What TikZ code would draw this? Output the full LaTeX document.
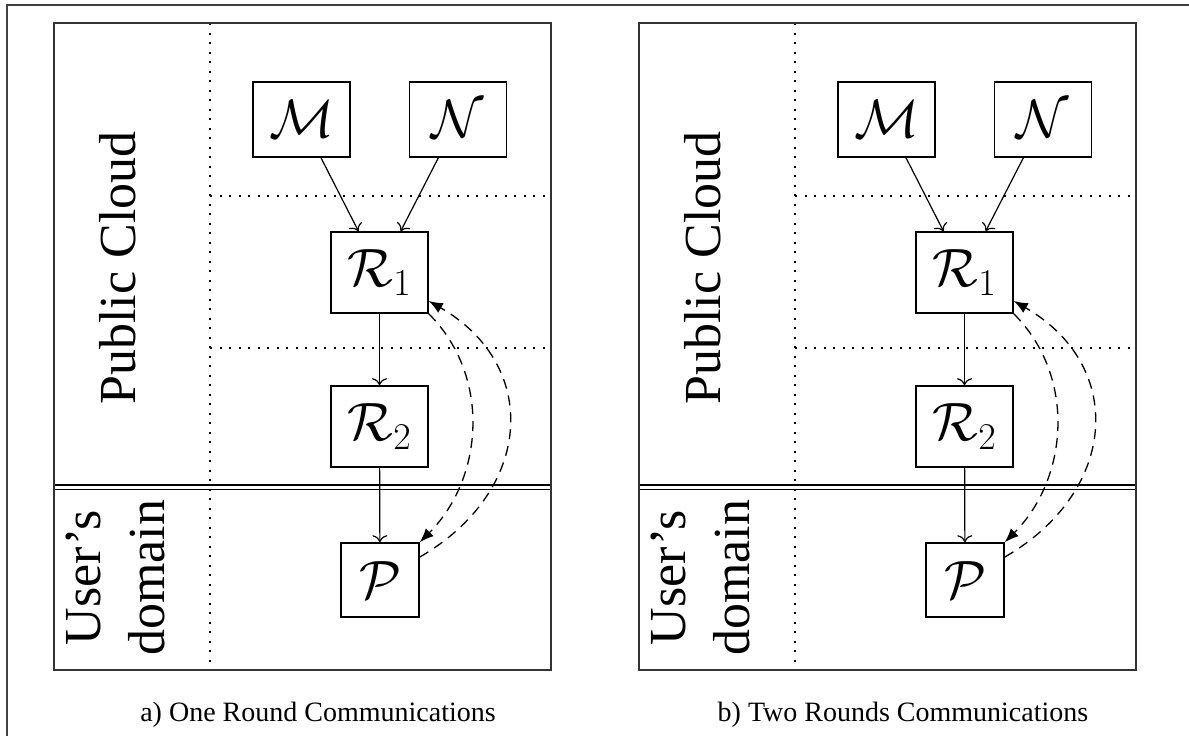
\RequirePackage{fix-cm}
\documentclass[tikz,border=0pt]{standalone}
\usepackage{fontspec}
\setmainfont{Liberation Serif}
\usepackage{amsmath}
\usepackage{xcolor}
\usetikzlibrary{arrows.meta}

\begin{document}
\begin{tikzpicture}[x=1pt,y=1pt,>={To[length=7pt,width=15pt]},
  blk/.style={draw,line width=1.6pt,inner sep=0pt,fill=white,font=\fontsize{54}{60}\selectfont},
  gridline/.style={line width=1.5pt,dash pattern=on 2pt off 7.5pt},
  flow/.style={line width=1.3pt,dash pattern=on 10pt off 7pt,-{Latex[length=14pt,width=11pt]}},
  side/.style={rotate=90,scale=2,align=center,font=\fontsize{26}{32}\selectfont}]
  \useasboundingbox (0,0) rectangle (1189,-736);
  \draw[line width=1.8pt,black!75] (7,-736) |- (1189,-5);
  \foreach \p/\dx/\cap in {a/0/{a) One Round Communications},b/585/{b) Two Rounds Communications}} {
    \begin{scope}[xshift=\dx]
      \draw[gridline] (210,-23) -- (210,-670);
      \draw[gridline] (210,-196) -- (551,-196);
      \draw[gridline] (210,-348) -- (551,-348);
      \draw[line width=1.3pt,double,double distance=3pt] (54,-487) -- (551,-487);
      \draw[line width=2.2pt,black!80] (54,-23) rectangle (551,-670);
      \node[side] (pc\p) at (118,-268) {Public Cloud};
      \node[side] (ud\p) at (115,-578) {User's\\domain};
      \node[blk,minimum width=97pt,minimum height=75pt] (M\p) at (301.5,-119.5) {$\mathcal{M}$};
      \node[blk,minimum width=97pt,minimum height=75pt] (N\p) at (458,-119.5) {$\mathcal{N}$};
      \node[blk,minimum width=97pt,minimum height=81pt] (R1\p) at (379.5,-272.5) {$\mathcal{R}_1$};
      \node[blk,minimum width=97pt,minimum height=81pt] (R2\p) at (379.5,-426.5) {$\mathcal{R}_2$};
      \node[blk,minimum width=78pt,minimum height=74pt] (P\p) at (380,-580) {$\mathcal{P}$};
      \draw[->,line width=1.2pt] (M\p) -- (R1\p);
      \draw[->,line width=1.2pt] (N\p) -- (R1\p);
      \draw[->,line width=1.2pt] (R1\p) -- (R2\p);
      \draw[->,line width=1.2pt] (R2\p) -- (P\p);
      \draw[flow] (R1\p.south east) to[out=-45,in=45,looseness=1] (P\p.north east);
      \draw[flow] (P\p.30) to[out=30,in=-30,looseness=1.3] (R1\p.-30);
      \node[anchor=base,font=\fontsize{28}{32}\selectfont] (cap\p) at (318,-721) {\cap};
    \end{scope}
  }
\end{tikzpicture}
\end{document}
